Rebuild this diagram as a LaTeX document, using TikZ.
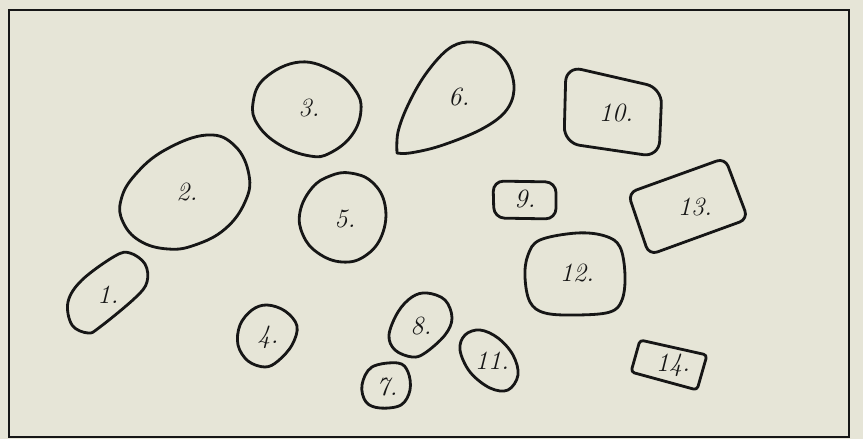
\documentclass[tikz,border=0pt]{standalone}
\usepackage{tikz}
\usetikzlibrary{positioning}
\definecolor{paper}{RGB}{230,229,215}
\definecolor{ink}{RGB}{22,22,22}
\tikzset{
  blob/.style={draw=ink, line width=1.6pt, line join=round},
  boxblob/.style={blob, rounded corners=#1},
  boxblob/.default=6pt,
  frame/.style={draw=ink, line width=1.1pt},
  blobnum/.style={font=\fontsize{15}{18}\selectfont\itshape, text=ink, inner sep=0pt},
}

\begin{document}
\begin{tikzpicture}[x=0.02cm, y=-0.02cm]
  \fill[paper] (0,0) rectangle (863,439);
  \useasboundingbox (0,0) rectangle (863,439);
  \draw[frame] (9,10) rectangle (849,437);

  % outlines
  \draw[blob] plot[smooth cycle, tension=0.6] coordinates {(68,302) (82,280) (115,256) (130,253) (145,264) (147,282) (135,298) (100,327) (88,333) (72,325)};
  \draw[blob] plot[smooth cycle, tension=0.7] coordinates {(207,135) (235,146) (249,175) (245,202) (225,229) (195,245) (168,249) (140,241) (123,222) (121,200) (135,175) (165,150)};
  \draw[blob] plot[smooth cycle, tension=0.7] coordinates {(300,62) (335,72) (355,90) (361,110) (352,135) (330,153) (310,156) (280,145) (258,125) (253,103) (265,78)};
  \draw[blob] plot[smooth cycle, tension=0.6] coordinates {(267,305) (285,311) (297,326) (292,345) (278,361) (265,367) (248,361) (238,345) (240,325) (252,310)};
  \draw[blob] plot[smooth cycle, tension=0.7] coordinates {(350,173) (372,182) (385,205) (382,235) (365,256) (342,262) (318,253) (303,235) (300,212) (312,188) (330,176)};
  \draw[blob] plot[smooth, tension=0.6] coordinates {(397,153) (398,132) (408,105) (425,75) (447,50) (467,42) (490,47) (508,65) (514,90) (505,112) (480,130) (440,146) (410,153) (397,153)} -- cycle;
  \draw[blob] plot[smooth cycle, tension=0.6] coordinates {(372,367) (398,363) (408,372) (410,390) (401,405) (380,408) (366,402) (362,385)};
  \draw[blob] plot[smooth cycle, tension=0.6] coordinates {(427,293) (445,300) (452,318) (445,335) (425,353) (412,357) (395,350) (389,335) (398,312) (412,297)};
  \draw[boxblob] (493,181) -- (556,182) -- (556,219) -- (494,218) -- cycle;
  \draw[boxblob=9pt] (566,66) -- (662,88) -- (659,157) -- (564,143) -- cycle;
  \draw[blob] plot[smooth cycle, tension=0.6] coordinates {(480,330) (498,338) (513,355) (518,375) (508,390) (490,388) (470,372) (460,350) (465,335)};
  \draw[blob] plot[smooth cycle, tension=0.6] coordinates {(577,233) (605,236) (620,247) (625,275) (622,300) (610,312) (577,315) (545,313) (530,302) (525,277) (528,255) (540,240)};
  \draw[boxblob=5pt] (628,193) -- (725,158) -- (748,219) -- (649,255) -- cycle;
  \draw[boxblob=2pt] (640,340) -- (707,355) -- (697,390) -- (631,372) -- cycle;

  % numbers
  \node[blobnum] (n1) at (108,295) {1.};
  \node[blobnum] (n2) at (187,192) {2.};
  \node[blobnum] (n3) at (309,108) {3.};
  \node[blobnum] (n4) at (268,337) {4.};
  \node[blobnum] (n5) at (345,219) {5.};
  \node[blobnum] (n6) at (459,97) {6.};
  \node[blobnum] (n7) at (387,387) {7.};
  \node[blobnum] (n8) at (421,326) {8.};
  \node[blobnum] (n9) at (525,199) {9.};
  \node[blobnum] (n10) at (616,113) {10.};
  \node[blobnum] (n11) at (492,361) {11.};
  \node[blobnum] (n12) at (577,273) {12.};
  \node[blobnum] (n13) at (695,207) {13.};
  \node[blobnum] (n14) at (673,365) {14.};
\end{tikzpicture}
\end{document}
